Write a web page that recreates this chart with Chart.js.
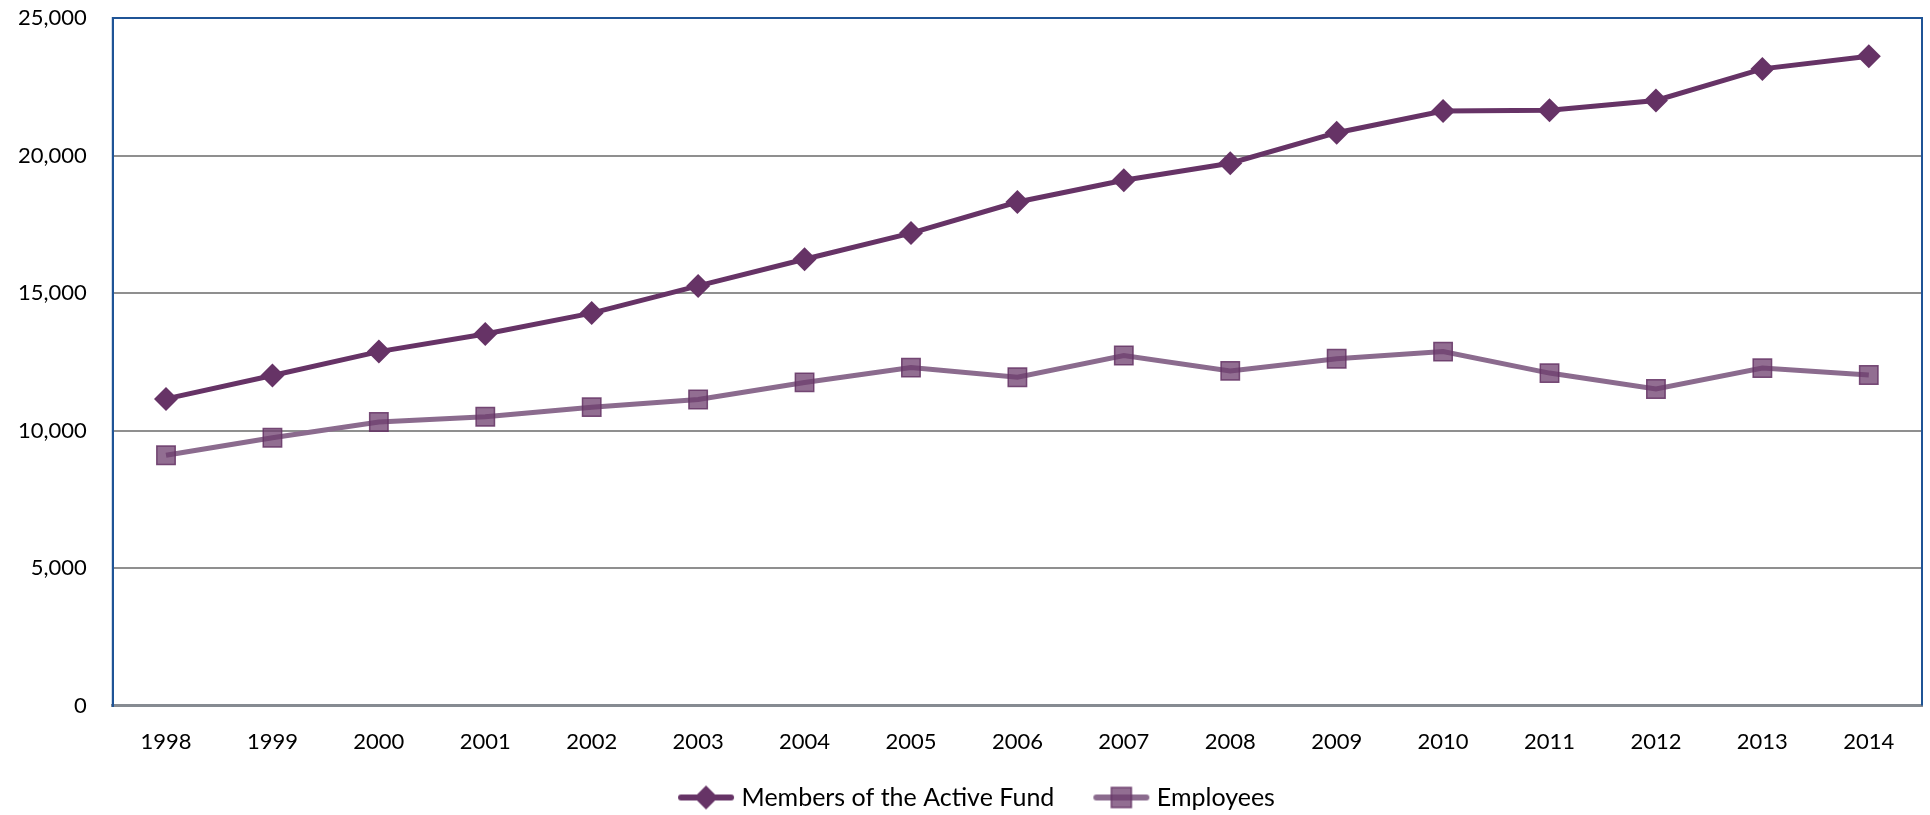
<!DOCTYPE html>
<html>
<head>
<meta charset="utf-8">
<script src="https://cdn.jsdelivr.net/npm/chart.js@4/dist/chart.umd.min.js"></script>
<style>
  body { margin: 0; background: #fff; }
  canvas { display: block; }
</style>
</head>
<body>
<canvas id="line-chart" width="1930" height="815"></canvas>
<script>
const years = ['1998', '1999', '2000', '2001', '2002', '2003', '2004', '2005', '2006',
    '2007', '2008', '2009', '2010', '2011', '2012', '2013', '2014'];
const members = [11150, 12000, 12870, 13510, 14270, 15260, 16230, 17180, 18310,
    19100, 19720, 20830, 21620, 21650, 22000, 23150, 23610];
const employees = [9100, 9740, 10310, 10500, 10850, 11130, 11750, 12290, 11940,
    12730, 12170, 12610, 12870, 12090, 11510, 12270, 12020];
const yTicks = [0, 5000, 10000, 15000, 20000, 25000];

const membersColor = '#663366';
const employeesLine = '#8b6b8e';
const employeesFill = 'rgba(110, 62, 110, 0.75)';
const employeesBorder = 'rgba(100, 50, 100, 0.85)';

// little line + marker picture for the legend entries
function legendIcon(kind) {
    let c = document.createElement('canvas');
    c.width = 58;
    c.height = 30;
    let g = c.getContext('2d');
    let cx = 29, cy = 15;
    g.lineCap = 'round';
    g.lineWidth = 6;
    g.strokeStyle = kind === 'diamond' ? membersColor : employeesLine;
    g.beginPath();
    g.moveTo(4, cy);
    g.lineTo(54, cy);
    g.stroke();
    if (kind === 'diamond') {
        g.fillStyle = membersColor;
        g.beginPath();
        g.moveTo(cx, cy - 12);
        g.lineTo(cx + 12, cy);
        g.lineTo(cx, cy + 12);
        g.lineTo(cx - 12, cy);
        g.closePath();
        g.fill();
    } else {
        g.fillStyle = employeesFill;
        g.strokeStyle = employeesBorder;
        g.lineWidth = 1.5;
        g.fillRect(cx - 10, cy - 10, 20, 20);
        g.strokeRect(cx - 10, cy - 10, 20, 20);
    }
    return c;
}

// blue frame on top, left and right of the plot area
const framePlugin = {
    id: 'frame',
    beforeDatasetsDraw(chart) {
        const a = chart.chartArea;
        const ctx = chart.ctx;
        ctx.save();
        ctx.strokeStyle = '#1f5496';
        ctx.lineWidth = 2;
        ctx.beginPath();
        ctx.moveTo(a.left, a.bottom);
        ctx.lineTo(a.left, a.top);
        ctx.lineTo(a.right, a.top);
        ctx.lineTo(a.right, a.bottom);
        ctx.stroke();
        ctx.restore();
    }
};

// nudge the legend box: wide gap between items but tucked under the year labels
const legendShift = {
    id: 'legendShift',
    afterLayout(chart) {
        const lg = chart.legend;
        lg.left += 9;
        lg.right += 9;
        lg.top -= 14;
        lg.bottom -= 14;
    }
};

const config = {
    type: 'line',
    data: {
        labels: years,
        datasets: [{
            label: 'Members of the Active Fund',
            data: members,
            borderColor: membersColor,
            backgroundColor: membersColor,
            borderWidth: 5,
            pointStyle: 'rectRot',
            pointRadius: 12,
            pointHoverRadius: 12,
            pointBackgroundColor: membersColor,
            pointBorderColor: membersColor,
            pointBorderWidth: 0,
            tension: 0
        }, {
            label: 'Employees',
            data: employees,
            borderColor: employeesLine,
            backgroundColor: employeesFill,
            borderWidth: 5,
            pointStyle: 'rect',
            pointRadius: 13,
            pointHoverRadius: 13,
            pointBackgroundColor: employeesFill,
            pointBorderColor: employeesBorder,
            pointBorderWidth: 1.5,
            tension: 0
        }]
    },
    options: {
        responsive: false,
        animation: false,
        layout: {
            autoPadding: false,
            padding: { top: 18, right: 8, left: 18, bottom: -19 }
        },
        scales: {
            x: {
                offset: true,
                grid: {
                    color: 'transparent',
                    drawOnChartArea: false,
                    tickLength: 23,
                    tickColor: 'transparent'
                },
                border: { display: true, color: '#868b92', width: 3 },
                ticks: {
                    color: '#000',
                    padding: 0,
                    maxRotation: 0,
                    font: { family: 'Lato', size: 22 }
                }
            },
            y: {
                min: 0,
                max: 25000,
                afterBuildTicks(axis) {
                    axis.ticks = yTicks.map(v => ({ value: v }));
                },
                grid: {
                    color: '#8f8f8f',
                    lineWidth: 2,
                    tickLength: 26,
                    tickColor: 'transparent'
                },
                border: { display: true, color: '#1f5496', width: 2 },
                ticks: {
                    color: '#000',
                    padding: 0,
                    font: { family: 'Lato', size: 22 },
                    callback: v => v.toLocaleString('en-US')
                }
            }
        },
        plugins: {
            legend: {
                position: 'bottom',
                labels: {
                    usePointStyle: true,
                    pointStyleWidth: 46,
                    padding: 44,
                    color: '#000',
                    font: { family: 'Lato', size: 25 },
                    generateLabels(chart) {
                        return chart.data.datasets.map((ds, i) => ({
                            text: ds.label,
                            pointStyle: legendIcon(i === 0 ? 'diamond' : 'square'),
                            fillStyle: ds.backgroundColor,
                            strokeStyle: ds.borderColor,
                            lineWidth: 0,
                            hidden: false,
                            datasetIndex: i
                        }));
                    }
                }
            },
            tooltip: { enabled: false }
        }
    },
    plugins: [framePlugin, legendShift]
};

window.onload = function() {
    let ctx = document.getElementById('line-chart').getContext('2d');
    window.myLine = new Chart(ctx, config);
};
</script>
</body>
</html>
